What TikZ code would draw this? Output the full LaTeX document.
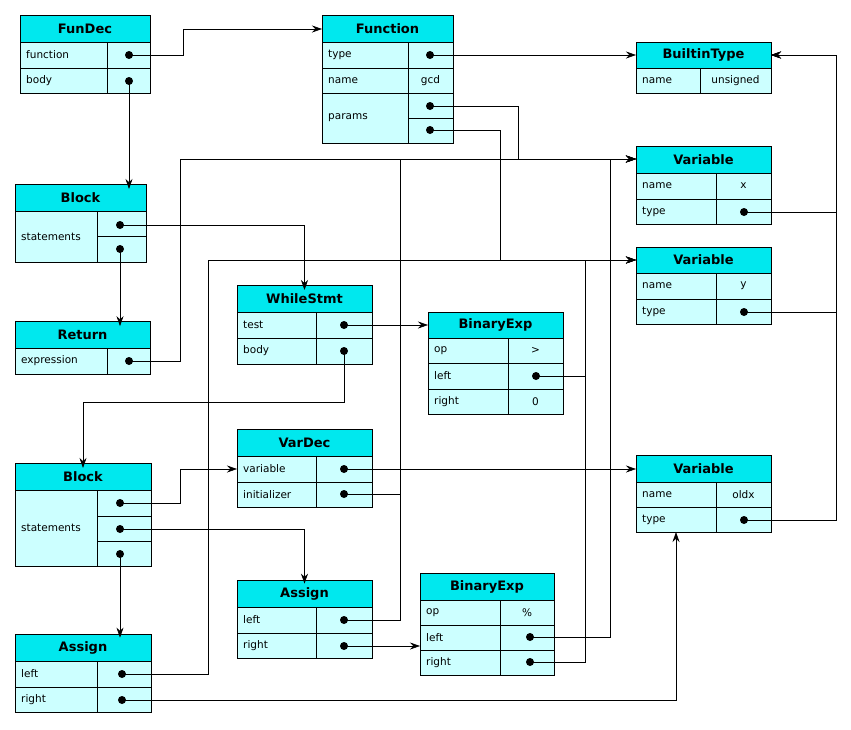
\documentclass[tikz,border=0pt]{standalone}
\usepackage{fontspec}
\setmainfont{DejaVu Sans}
\usetikzlibrary{arrows.meta}

\definecolor{hdrcyan}{RGB}{0,232,238}
\definecolor{rowcyan}{RGB}{204,255,255}

\tikzset{
  hdr/.style={font=\fontsize{13}{15}\selectfont\bfseries},
  lbl/.style={font=\fontsize{10.5}{12}\selectfont, anchor=west, inner sep=0pt},
  val/.style={font=\fontsize{10.5}{12}\selectfont, inner sep=0pt},
  dot/.style={circle, fill=black, inner sep=0pt, minimum size=8pt},
  link/.style={-{Stealth[length=10pt,width=7pt]}, line width=0.6pt}
}

% header box: name, x1, x2, y1, y2, text
\newcommand{\hdrbox}[6]{%
  \draw[fill=hdrcyan] (#2,#4) rectangle (#3,#5);
  \node[hdr] (#1) at ({(#2+#3)/2},{(#4+#5)/2}) {#6};}
% field row: x1, xd, x2, y1, y2, label, value
\newcommand{\fieldrow}[7]{%
  \draw[fill=rowcyan] (#1,#4) rectangle (#3,#5);
  \draw (#2,#4) -- (#2,#5);
  \node[lbl] at ({#1+6},{(#4+#5)/2}) {#6};
  \node[val] at ({(#2+#3)/2},{(#4+#5)/2}) {#7};}

\begin{document}
\begin{tikzpicture}[x=1pt,y=-1pt]
  \useasboundingbox (0,0) rectangle (851,729);

  % === FunDec ===
  \hdrbox{fundec}{20}{150}{15}{42}{FunDec}
  \fieldrow{20}{107}{150}{42}{68}{function}{}
  \fieldrow{20}{107}{150}{68}{93}{body}{}
  \node[dot] (fdFun) at (129,55) {};
  \node[dot] (fdBody) at (129,81) {};

  % === Function ===
  \hdrbox{func}{322}{453}{15}{42}{Function}
  \fieldrow{322}{408}{453}{42}{68}{type}{}
  \fieldrow{322}{408}{453}{68}{93}{name}{gcd}
  \fieldrow{322}{408}{453}{93}{143}{params}{}
  \draw (408,118) -- (453,118);
  \node[dot] (fnType) at (430,55) {};
  \node[dot] (fnPar1) at (430,106) {};
  \node[dot] (fnPar2) at (430,130) {};

  % === BuiltinType ===
  \hdrbox{builtin}{636}{771}{42}{68}{BuiltinType}
  \fieldrow{636}{700}{771}{68}{93}{name}{unsigned}

  % === Variable x ===
  \hdrbox{varx}{636}{771}{146}{173}{Variable}
  \fieldrow{636}{716}{771}{173}{199}{name}{x}
  \fieldrow{636}{716}{771}{199}{224}{type}{}
  \node[dot] (vxType) at (744,212) {};

  % === Variable y ===
  \hdrbox{vary}{636}{771}{247}{273}{Variable}
  \fieldrow{636}{716}{771}{273}{299}{name}{y}
  \fieldrow{636}{716}{771}{299}{324}{type}{}
  \node[dot] (vyType) at (744,312) {};

  % === Variable oldx ===
  \hdrbox{varold}{636}{771}{455}{482}{Variable}
  \fieldrow{636}{716}{771}{482}{507}{name}{oldx}
  \fieldrow{636}{716}{771}{507}{532}{type}{}
  \node[dot] (voType) at (744,520) {};

  % === Block (outer) ===
  \hdrbox{blockA}{15}{146}{184}{211}{Block}
  \fieldrow{15}{97}{146}{211}{262}{statements}{}
  \draw (97,236) -- (146,236);
  \node[dot] (baS1) at (120,225) {};
  \node[dot] (baS2) at (120,249) {};

  % === Return ===
  \hdrbox{ret}{15}{150}{321}{348}{Return}
  \fieldrow{15}{107}{150}{348}{374}{expression}{}
  \node[dot] (retExp) at (129,361) {};

  % === WhileStmt ===
  \hdrbox{while}{237}{372}{285}{312}{WhileStmt}
  \fieldrow{237}{316}{372}{312}{338}{test}{}
  \fieldrow{237}{316}{372}{338}{364}{body}{}
  \node[dot] (wTest) at (344,325) {};
  \node[dot] (wBody) at (344,351) {};

  % === BinaryExp (test) ===
  \hdrbox{binA}{428}{563}{312}{338}{BinaryExp}
  \fieldrow{428}{508}{563}{338}{363}{op}{>}
  \fieldrow{428}{508}{563}{363}{389}{left}{}
  \fieldrow{428}{508}{563}{389}{414}{right}{0}
  \node[dot] (baLeft) at (536,376) {};

  % === Block (inner) ===
  \hdrbox{blockB}{15}{151}{463}{490}{Block}
  \fieldrow{15}{97}{151}{490}{566}{statements}{}
  \draw (97,516) -- (151,516);
  \draw (97,541) -- (151,541);
  \node[dot] (bbS1) at (120,503) {};
  \node[dot] (bbS2) at (120,529) {};
  \node[dot] (bbS3) at (120,554) {};

  % === VarDec ===
  \hdrbox{vardec}{237}{372}{429}{456}{VarDec}
  \fieldrow{237}{316}{372}{456}{482}{variable}{}
  \fieldrow{237}{316}{372}{482}{507}{initializer}{}
  \node[dot] (vdVar) at (344,469) {};
  \node[dot] (vdInit) at (344,494) {};

  % === Assign (inner) ===
  \hdrbox{asgA}{237}{372}{580}{607}{Assign}
  \fieldrow{237}{316}{372}{607}{633}{left}{}
  \fieldrow{237}{316}{372}{633}{658}{right}{}
  \node[dot] (aaLeft) at (344,620) {};
  \node[dot] (aaRight) at (344,646) {};

  % === BinaryExp (%) ===
  \hdrbox{binB}{420}{554}{573}{600}{BinaryExp}
  \fieldrow{420}{500}{554}{600}{625}{op}{\%}
  \fieldrow{420}{500}{554}{625}{650}{left}{}
  \fieldrow{420}{500}{554}{650}{675}{right}{}
  \node[dot] (bbLeft) at (530,637) {};
  \node[dot] (bbRight) at (530,662) {};

  % === Assign (outer) ===
  \hdrbox{asgB}{15}{151}{634}{661}{Assign}
  \fieldrow{15}{97}{151}{661}{687}{left}{}
  \fieldrow{15}{97}{151}{687}{712}{right}{}
  \node[dot] (abLeft) at (122,674) {};
  \node[dot] (abRight) at (122,700) {};

  % targets
  \coordinate (inFunc) at (322,29);
  \coordinate (inBuiltin) at (636,55);
  \coordinate (inBuiltinR) at (771,55);
  \coordinate (inX) at (636,159);
  \coordinate (inY) at (636,260);
  \coordinate (inOld) at (636,469);
  \coordinate (inOldB) at (676,532);

  % Connectors
  \draw[link] (fdFun.center) -| (183,29) -- (inFunc);
  \draw[link] (fdBody.center) -- (blockA.north -| fdBody);
  \draw[link] (fnType.center) -- (inBuiltin);
  \draw[link] (fnPar1.center) -| (518,159) -- (inX);
  \draw[link] (fnPar2.center) -| (500,260) -- (inY);
  \draw[link] (baS1.center) -| (while.north);
  \draw[link] (baS2.center) -- (ret.north -| baS2);
  \draw[link] (retExp.center) -| (180,159) -- (inX);
  \draw[link] (wTest.center) -- (428,325);
  \draw[link] (wBody.center) -- (344,402) -| (blockB.north -| 83,0);
  \draw[link] (baLeft.center) -| (585,260) -- (inY);
  \draw[link] (bbRight.center) -| (585,260) -- (inY);
  \draw[link] (bbLeft.center) -| (610,159) -- (inX);
  \draw[link] (abLeft.center) -| (208,260) -- (inY);
  \draw[link] (bbS1.center) -| (180,469) -- (237,469);
  \draw[link] (bbS2.center) -| (asgA.north);
  \draw[link] (bbS3.center) -- (asgB.north -| bbS3);
  \draw[link] (vdVar.center) -- (inOld);
  \draw[link] (vdInit.center) -| (400,159) -- (inX);
  \draw[link] (aaLeft.center) -| (400,159) -- (inX);
  \draw[link] (aaRight.center) -- (420,646);
  \draw[link] (abRight.center) -| (inOldB);
  \draw[link] (vxType.center) -| (836,55) -- (inBuiltinR);
  \draw[link] (vyType.center) -| (836,55) -- (inBuiltinR);
  \draw[link] (voType.center) -| (836,55) -- (inBuiltinR);
\end{tikzpicture}
\end{document}
